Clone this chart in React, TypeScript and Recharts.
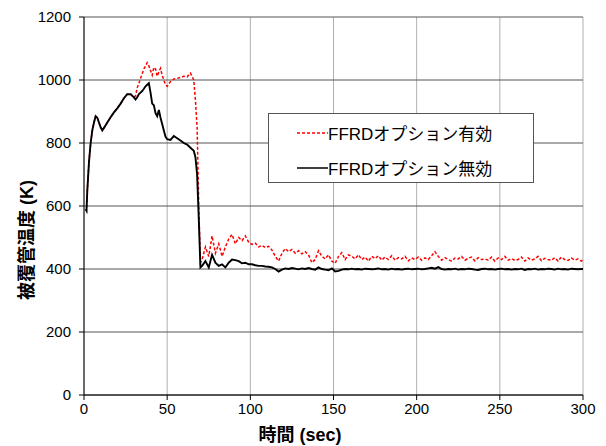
import { LineChart, Line, XAxis, YAxis, CartesianGrid, Legend } from 'recharts'

// time axis (sec)
const TIMES = [
  1, 1.5, 2, 3, 4, 5, 6, 7, 8, 9, 10, 11, 12, 14, 16, 18, 20, 22, 24, 26, 28, 30,
  31, 32, 33, 34, 35, 36, 37, 38, 39, 40, 41, 42, 43, 44, 45, 46, 47, 48, 49, 50,
  52, 54, 56, 58, 60, 62, 64, 66, 67, 68, 69, 70,
  71, 73, 75, 77, 79, 81, 83, 85,
  87, 89, 91, 93, 95, 97, 99,
  101, 103, 105, 107, 109, 111, 113, 115, 117, 119,
  121, 123, 125, 127, 129, 131, 133, 135, 137, 139,
  141, 143, 145, 147, 149, 151, 153, 155, 157, 159,
  161, 163, 165, 167, 169, 171, 173, 175, 177, 179,
  181, 183, 185, 187, 189, 191, 193, 195, 197, 199,
  201, 203, 205, 207, 209, 211, 213, 215, 217, 219,
  221, 223, 225, 227, 229, 231, 233, 235, 237, 239,
  241, 243, 245, 247, 249, 251, 253, 255, 257, 259,
  261, 263, 265, 267, 269, 271, 273, 275, 277, 279,
  281, 283, 285, 287, 289, 291, 293, 295, 297, 299, 300,
]

// FFRDオプション有効 (K)
const ENABLED = [
  590, 585, 650, 740, 800, 840, 865, 885, 880, 865, 850, 840, 848, 865, 882, 897, 910, 925, 942, 955, 955, 945,
  950, 975, 990, 1005, 1020, 1035, 1045, 1055, 1045, 1030, 1015, 1040, 1035, 1012, 1025, 1037, 1015, 1000, 985, 980,
  995, 1003, 1005, 1008, 1012, 1010, 1022, 1000, 935, 850, 600, 420,
  430, 470, 440, 505, 450, 480, 440, 470,
  495, 510, 480, 500, 490, 505, 485,
  478, 482, 470, 475, 468, 472, 460, 440, 425, 450,
  465, 455, 462, 450, 458, 448, 455, 445, 420, 430,
  458, 440, 432, 445, 425, 418, 440, 452, 430, 445,
  440, 432, 445, 430, 438, 425, 440, 433, 442, 428,
  438, 430, 442, 428, 436, 432, 440, 426, 435, 430,
  438, 428, 435, 430, 442, 455, 440, 428, 436, 430,
  425, 435, 432, 440, 428, 434, 438, 426, 436, 430,
  432, 428, 438, 425, 435, 430, 440, 428, 433, 427,
  430, 438, 425, 435, 428, 432, 440, 426, 434, 430,
  428, 436, 425, 438, 430, 427, 435, 428, 432, 425, 430,
]

// FFRDオプション無効 (K)
const DISABLED = [
  590, 585, 650, 740, 800, 840, 865, 885, 880, 865, 850, 840, 848, 865, 882, 897, 910, 925, 942, 955, 955, 945,
  938, 945, 955, 960, 965, 972, 980, 985, 990, 960, 925, 920, 895, 885, 905, 880, 860, 840, 820, 812,
  810, 822, 815, 808, 800, 795, 785, 775, 755, 700, 560, 405,
  410, 425, 405, 445, 420, 410, 415, 405,
  420, 430, 428, 425, 418, 420, 415,
  415, 412, 410, 410, 408, 407, 405, 400, 392, 398,
  402, 400, 403, 401, 399, 402, 400, 403, 400, 398,
  405, 400, 398, 396, 402, 392, 394, 398, 400, 399,
  401, 399, 400, 398, 401, 400, 399, 400, 402, 399,
  400, 398, 401, 399, 400, 398, 400, 401, 399, 400,
  401, 399, 400, 402, 404, 401, 406, 400, 398, 400,
  399, 401, 398, 400, 399, 401, 400, 398, 397, 400,
  401, 399, 400, 398, 400, 401, 399, 400, 398, 400,
  399, 401, 397, 400, 399, 401, 398, 400, 399, 401,
  400, 398, 401, 399, 400, 398, 401, 400, 399, 400, 400,
]

const X_TICKS = [0, 50, 100, 150, 200, 250, 300]
const Y_TICKS = [0, 200, 400, 600, 800, 1000, 1200]

const SERIES = [
  { key: 'on', name: 'FFRDオプション有効', color: '#ff0000', dash: '3 2' },
  { key: 'off', name: 'FFRDオプション無効', color: '#000000', dash: undefined },
]

const FONT = '"Liberation Sans", Arial, "Noto Sans CJK JP", sans-serif'

const data = TIMES.map((t, i) => ({ t, on: ENABLED[i], off: DISABLED[i] }))

function LegendBox() {
  return (
    <div style={{
      width: 266, height: 70, boxSizing: 'border-box', border: '1px solid #555',
      background: '#fff', fontFamily: FONT, fontSize: 17, color: '#000', paddingTop: 1,
    }}>
      {SERIES.map((s) => (
        <div key={s.key} style={{ display: 'flex', alignItems: 'center', height: 35, paddingLeft: 28 }}>
          <svg width={31} height={4}>
            <line x1={0} y1={2} x2={31} y2={2} stroke={s.color} strokeWidth={1.5} strokeDasharray={s.dash} />
          </svg>
          <span>{s.name}</span>
        </div>
      ))}
    </div>
  )
}

function YTitle() {
  return (
    <text x={27} y={240} transform="rotate(-90, 27, 240)" textAnchor="middle" dominantBaseline="central"
      style={{ fontFamily: FONT, fontSize: 18, fontWeight: 'bold', fill: '#000' }}>
      被覆管温度 (K)
    </text>
  )
}

function XTitle() {
  return (
    <text x={300} y={435} textAnchor="middle" dominantBaseline="central"
      style={{ fontFamily: FONT, fontSize: 18, fontWeight: 'bold', fill: '#000' }}>
      時間 (sec)
    </text>
  )
}

export default function App() {
  const tick = { fontSize: 15, fill: '#000', fontFamily: FONT }
  return (
    <div style={{ position: 'absolute', left: 0, top: 0, width: 606, height: 446, background: '#fff' }}>
      <LineChart width={606} height={446} data={data} margin={{ top: 17, right: 23, left: 0, bottom: 0 }}>
        <CartesianGrid horizontal={false} stroke="#b0b0b0" />
        <CartesianGrid vertical={false} stroke="#555" />
        <XAxis dataKey="t" type="number" domain={[0, 300]} ticks={X_TICKS} height={51}
          stroke="#000" tick={tick} tickSize={5} tickMargin={3} label={<XTitle />} />
        <YAxis type="number" domain={[0, 1200]} ticks={Y_TICKS} width={84}
          stroke="#000" tick={tick} tickSize={5} tickMargin={8} label={<YTitle />} />
        <Legend layout="vertical" verticalAlign="middle" align="center" content={<LegendBox />}
          wrapperStyle={{ left: 268, top: 113, width: 266 }} />
        {SERIES.map((s) => (
          <Line key={s.key} dataKey={s.key} name={s.name} type="linear" stroke={s.color}
            strokeWidth={s.dash ? 1.5 : 1.9} strokeDasharray={s.dash} dot={false} isAnimationActive={false} />
        ))}
      </LineChart>
    </div>
  )
}
